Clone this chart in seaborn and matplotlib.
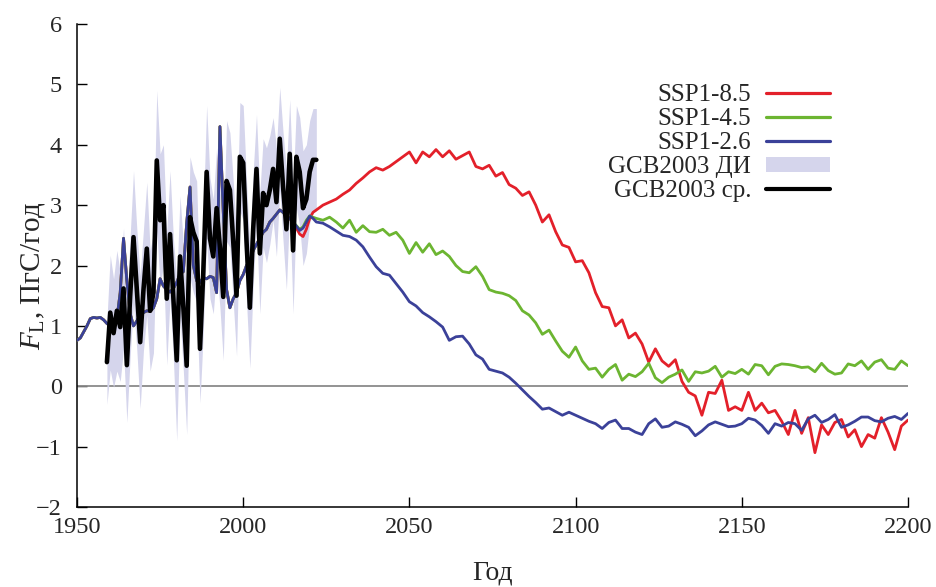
import numpy as np
import pandas as pd
import matplotlib
matplotlib.use("Agg")
import matplotlib.pyplot as plt
from matplotlib.lines import Line2D
from matplotlib.patches import Patch
import seaborn as sns

# ---------------- data ----------------
YEARS_HIST = list(range(1950, 2015))          # shared model history
HIST_COMMON = [
    0.76, 0.80, 0.90, 1.00, 1.12, 1.14, 1.13, 1.14, 1.10, 1.04,   # 1950-59
    1.00, 1.06, 1.12, 1.55, 2.45, 1.75, 1.20, 1.00, 1.08, 1.18,   # 1960-69
    1.22, 1.25, 1.24, 1.30, 1.45, 1.78, 1.66, 1.60, 1.56, 1.62,   # 1970-79
    1.72, 1.86, 1.90, 2.70, 3.30, 2.00, 1.75, 1.72, 1.80, 1.78,   # 1980-89
    1.82, 1.80, 1.55, 4.30, 2.90, 1.60, 1.30, 1.45, 1.55, 1.75,   # 1990-99
    1.85, 2.00, 2.05, 2.25, 2.35, 2.45, 2.55, 2.60, 2.72, 2.78,   # 2000-09
    2.85, 2.92, 2.88, 2.82, 2.78,                                 # 2010-14
]
YEARS_TAIL = list(range(2015, 2023))
TAIL_126 = [2.72, 2.65, 2.58, 2.62, 2.72, 2.82, 2.78, 2.72]
TAIL_245 = [2.72, 2.66, 2.60, 2.64, 2.75, 2.82, 2.80, 2.78]
TAIL_585 = [2.70, 2.62, 2.52, 2.48, 2.60, 2.78, 2.88, 2.92]

YEARS_FUT = list(range(2024, 2201, 2))
FUT_126 = [
    2.70, 2.64, 2.57, 2.50, 2.48, 2.42, 2.31, 2.14, 1.98, 1.87,
    1.84, 1.70, 1.56, 1.40, 1.33, 1.22, 1.15, 1.07, 0.98, 0.76,
    0.82, 0.83, 0.70, 0.52, 0.45, 0.28, 0.25, 0.22, 0.15, 0.05,
    -0.06, -0.17, -0.27, -0.38, -0.36, -0.42, -0.48, -0.43, -0.48, -0.53,
    -0.58, -0.62, -0.70, -0.60, -0.56, -0.70, -0.70, -0.76, -0.80, -0.62,
    -0.54, -0.68, -0.66, -0.59, -0.63, -0.68, -0.82, -0.74, -0.64, -0.59,
    -0.63, -0.67, -0.66, -0.62, -0.53, -0.56, -0.65, -0.78, -0.62, -0.66,
    -0.60, -0.62, -0.73, -0.54, -0.48, -0.60, -0.55, -0.47, -0.68, -0.64,
    -0.58, -0.51, -0.51, -0.57, -0.59, -0.53, -0.50, -0.55, -0.45,
]
FUT_245 = [
    2.75, 2.80, 2.72, 2.62, 2.75, 2.55, 2.66, 2.56, 2.55, 2.60,
    2.50, 2.55, 2.42, 2.20, 2.38, 2.22, 2.36, 2.18, 2.24, 2.15,
    2.00, 1.90, 1.88, 1.98, 1.82, 1.60, 1.56, 1.54, 1.50, 1.42,
    1.25, 1.18, 1.05, 0.86, 0.93, 0.75, 0.58, 0.48, 0.65, 0.42,
    0.28, 0.30, 0.15, 0.28, 0.36, 0.10, 0.20, 0.16, 0.24, 0.38,
    0.14, 0.06, 0.15, 0.20, 0.27, 0.08, 0.24, 0.22, 0.25, 0.33,
    0.15, 0.24, 0.21, 0.28, 0.20, 0.36, 0.34, 0.19, 0.33, 0.37,
    0.36, 0.34, 0.31, 0.32, 0.24, 0.38, 0.26, 0.20, 0.22, 0.37,
    0.34, 0.42, 0.28, 0.40, 0.44, 0.30, 0.28, 0.42, 0.34,
]
FUT_585 = [
    3.00, 3.05, 3.10, 3.18, 3.25, 3.36, 3.45, 3.55, 3.62, 3.58,
    3.64, 3.72, 3.80, 3.88, 3.70, 3.88, 3.80, 3.92, 3.80, 3.90,
    3.76, 3.82, 3.88, 3.64, 3.60, 3.66, 3.48, 3.54, 3.34, 3.28,
    3.16, 3.22, 3.00, 2.72, 2.84, 2.56, 2.34, 2.30, 2.06, 2.08,
    1.88, 1.55, 1.32, 1.30, 1.00, 1.10, 0.80, 0.88, 0.70, 0.40,
    0.62, 0.42, 0.33, 0.44, 0.08, -0.10, -0.16, -0.48, -0.10, -0.12,
    0.10, -0.40, -0.34, -0.40, -0.10, -0.40, -0.28, -0.44, -0.40, -0.58,
    -0.80, -0.40, -0.78, -0.52, -1.10, -0.64, -0.80, -0.60, -0.55, -0.84,
    -0.72, -1.00, -0.80, -0.86, -0.52, -0.76, -1.05, -0.66, -0.56,
]

YEARS_GCB = list(range(1959, 2023))
GCB_MEAN = [
    0.40, 1.22, 0.88, 1.25, 0.98, 1.62, 0.35, 1.50, 2.47, 1.60,   # 1959-68
    0.73, 1.60, 2.28, 1.25, 1.55, 3.74, 2.75, 3.00, 1.45, 2.52,   # 1969-78
    1.45, 0.43, 2.15, 1.30, 0.34, 2.80, 2.55, 2.40, 0.62, 1.90,   # 1979-88
    3.55, 2.45, 2.15, 2.95, 2.30, 1.48, 3.40, 3.25, 2.40, 1.50,   # 1989-98
    3.80, 3.70, 2.40, 1.30, 2.60, 3.60, 2.20, 3.20, 3.00, 3.25,   # 1999-08
    3.60, 3.05, 4.10, 3.30, 2.60, 3.85, 2.25, 3.80, 3.55, 2.95,   # 2009-18
    3.10, 3.55, 3.75, 3.75,                                       # 2019-22
]
GCB_HALF = [
    0.70, 0.95, 0.90, 1.00, 0.90, 1.00, 0.95, 1.00, 1.10, 1.00,
    1.10, 1.00, 1.10, 1.00, 1.00, 1.16, 1.10, 1.00, 1.10, 1.05,
    1.00, 1.33, 1.00, 1.05, 1.14, 1.00, 1.00, 1.00, 0.90, 1.00,
    1.10, 1.00, 0.95, 1.00, 1.00, 1.05, 1.00, 0.95, 1.00, 1.00,
    0.90, 0.95, 1.00, 1.00, 0.95, 0.90, 1.00, 0.90, 0.95, 0.90,
    0.85, 0.90, 0.85, 0.90, 1.00, 0.90, 1.05, 0.85, 0.90, 0.95,
    0.90, 0.85, 0.85, 0.85,
]

LABELS = ["SSP1-8.5", "SSP1-4.5", "SSP1-2.6", "GCB2003 ДИ", "GCB2003 ср."]
COLORS = {"SSP1-8.5": "#e3202a", "SSP1-4.5": "#6cb531", "SSP1-2.6": "#3b4199"}
BAND_COLOR = "#d5d5ec"

# ---------------- build tables ----------------
rows = []
for name, tail, fut in [("SSP1-8.5", TAIL_585, FUT_585),
                        ("SSP1-4.5", TAIL_245, FUT_245),
                        ("SSP1-2.6", TAIL_126, FUT_126)]:
    yrs = YEARS_HIST + YEARS_TAIL + YEARS_FUT
    vals = HIST_COMMON + tail + fut
    rows.append(pd.DataFrame({"year": yrs, "value": vals, "scenario": name}))
df = pd.concat(rows, ignore_index=True)
gcb = pd.DataFrame({"year": YEARS_GCB, "mean": GCB_MEAN, "half": GCB_HALF})
gcb["lo"] = gcb["mean"] - gcb["half"]
gcb["hi"] = gcb["mean"] + gcb["half"]

# ---------------- style ----------------
sns.set_style("ticks")
plt.rcParams["font.family"] = ["Liberation Serif", "DejaVu Serif"]
plt.rcParams["mathtext.fontset"] = "custom"
plt.rcParams["mathtext.rm"] = "Liberation Serif"
plt.rcParams["mathtext.it"] = "Liberation Serif:italic"

fig = plt.figure(figsize=(9.37, 5.87), dpi=100)
ax = fig.add_axes([77 / 937, 1 - 507 / 587, (908 - 77) / 937, (507 - 24) / 587])

ax.axhline(0, color="#8a8a8a", lw=1.3, zorder=1)
ax.fill_between(gcb["year"], gcb["lo"], gcb["hi"], color=BAND_COLOR,
                lw=0, zorder=2)

sns.lineplot(data=df, x="year", y="value", hue="scenario",
             hue_order=["SSP1-8.5", "SSP1-4.5", "SSP1-2.6"],
             palette=COLORS, lw=2.0, ax=ax, legend=False, zorder=3)
sns.lineplot(data=gcb, x="year", y="mean", color="black", lw=3.3,
             ax=ax, legend=False, zorder=4)

ax.set_xlim(1950, 2200)
ax.set_ylim(-2, 6)
ax.set_xticks([1950, 2000, 2050, 2100, 2150, 2200])
ax.set_yticks(range(-2, 7))
ax.tick_params(direction="in", length=7, width=1.0, labelsize=17.5,
               color="black")
ax.tick_params(axis="x", pad=7.5)
ax.tick_params(axis="y", pad=11)
for s in ["top", "right"]:
    ax.spines[s].set_visible(False)
for s in ["left", "bottom"]:
    ax.spines[s].set_linewidth(1.1)
    ax.spines[s].set_color("black")

ax.set_xlabel("Год", fontsize=20, labelpad=16)
ax.set_ylabel(r"$F_{\mathrm{L}}$, ПгС/год", fontsize=21)
ax.yaxis.set_label_coords(-0.036, 0.478)

handles = [Line2D([], [], color=COLORS["SSP1-8.5"], lw=2.3),
           Line2D([], [], color=COLORS["SSP1-4.5"], lw=2.3),
           Line2D([], [], color=COLORS["SSP1-2.6"], lw=2.3),
           Patch(facecolor=BAND_COLOR, edgecolor="none"),
           Line2D([], [], color="black", lw=3.0)]
fig.legend(handles, LABELS, loc="upper right",
           bbox_to_anchor=(830 / 937, 1 - 84 / 587),
           frameon=False, markerfirst=False, fontsize=18,
           handlelength=2.55, handleheight=0.55, handletextpad=0.6,
           labelspacing=0.08, borderpad=0, borderaxespad=0)

fig.savefig("out.png", dpi=100)
